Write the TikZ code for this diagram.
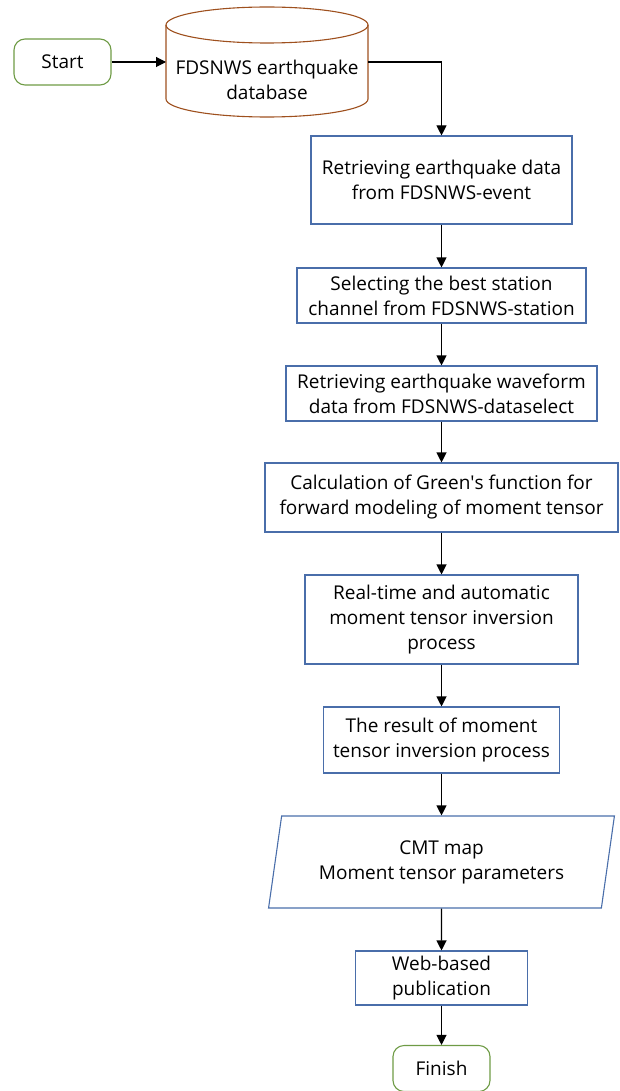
\documentclass[tikz,border=0pt]{standalone}
\usepackage{fontspec}
\setmainfont{Open Sans}
\usepackage{xcolor}
\usetikzlibrary{shapes.geometric,arrows.meta}
\definecolor{termgreen}{RGB}{110,155,69}
\definecolor{dbbrown}{RGB}{158,80,30}
\definecolor{boxblue}{RGB}{74,110,170}

\begin{document}
\begin{tikzpicture}[x=1pt,y=-1pt,
  font=\fontsize{19}{25}\selectfont,
  term/.style={draw=termgreen,line width=1.1pt,rounded corners=11pt,minimum width=97pt,minimum height=46pt,inner sep=0pt},
  proc/.style={draw=boxblue,line width=1.1pt,align=center,inner sep=0pt},
  dbline/.style={draw=dbbrown,line width=1.1pt},
  link/.style={line width=1.1pt,-{Triangle[width=10pt,length=10pt]}}]
\useasboundingbox (0,0) rectangle (620,1091);

\node[term](start) at (62.5,62){Start};

% database drum
\draw[dbline] (166,25) -- (166,99) arc[start angle=180,end angle=360,x radius=101pt,y radius=18pt] -- (368,25);
\draw[dbline] (267,25) ellipse[x radius=101pt,y radius=18pt];
\node[align=center,inner sep=0pt](db) at (267,80){FDSNWS earthquake\\database};
\coordinate (dbin) at (166,62);
\coordinate (dbout) at (368,62);

\node[proc,minimum width=261pt,minimum height=88pt](evt) at (441.5,180){Retrieving earthquake data\\from FDSNWS-event};
\node[proc,minimum width=289pt,minimum height=55pt](sta) at (441.5,295.5){Selecting the best station\\channel from FDSNWS-station};
\node[proc,minimum width=311pt,minimum height=55pt](wav) at (441.5,393.5){Retrieving earthquake waveform\\data from FDSNWS-dataselect};
\node[proc,minimum width=353pt,minimum height=69pt](grn) at (441.5,497.5){Calculation of Green\textquotesingle s function for\\forward modeling of moment tensor};
\node[proc,minimum width=273pt,minimum height=89pt](inv) at (441.5,619.5){Real-time and automatic\\moment tensor inversion\\process};
\node[proc,minimum width=236pt,minimum height=66pt](res) at (441.5,740){The result of moment\\tensor inversion process};
\node[proc,trapezium,trapezium left angle=77,trapezium right angle=103,trapezium stretches=true,minimum width=346pt,minimum height=92pt](cmt) at (441.5,862){CMT map\\Moment tensor parameters};
\node[proc,minimum width=172pt,minimum height=54pt](web) at (441.5,978){Web-based\\publication};
\node[term](fin) at (441.5,1068.5){Finish};

\draw[link](start) -- (dbin);
\draw[link](dbout) -| (evt.north);
\draw[link](evt) -- (sta);
\draw[link](sta) -- (wav);
\draw[link](wav) -- (grn);
\draw[link](grn) -- (inv);
\draw[link](inv) -- (res);
\draw[link](res) -- (cmt);
\draw[link](cmt) -- (web);
\draw[link](web) -- (fin);

\end{tikzpicture}
\end{document}
